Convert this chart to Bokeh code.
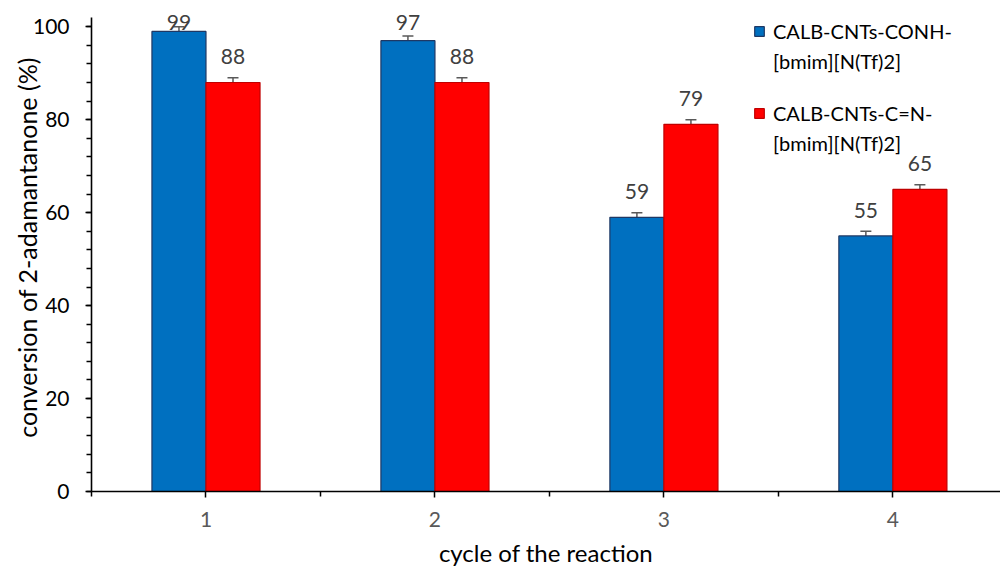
from bokeh.plotting import figure
from bokeh.models import (ColumnDataSource, Whisker, TeeHead, FixedTicker, Range1d,
                          Legend, LegendItem, LabelSet)
from bokeh.core.properties import value
from bokeh.embed import file_html
from bokeh.resources import INLINE

cycles = ["1", "2", "3", "4"]
series_lines = [["CALB-CNTs-CONH-", "[bmim][N(Tf)2]"], ["CALB-CNTs-C=N-", "[bmim][N(Tf)2]"]]
conh = [99, 97, 59, 55]
cn = [88, 88, 79, 65]
conh_err = [1, 1, 1, 1]
cn_err = [1, 1, 1, 1]
colors = ["#0070C0", "#FF0000"]
outlines = ["#1F3864", "#C00000"]

FONT = "Lato"
x_num = [float(c) for c in cycles]
bw = 0.236

p = figure(width=1000, height=572, output_backend="svg", toolbar_location=None,
           x_range=Range1d(0.5, 4.47), y_range=Range1d(0, 105),
           min_border_left=91, min_border_right=0, min_border_top=3, min_border_bottom=81)
p.outline_line_color = None
p.grid.visible = False
p.background_fill_color = "white"

renderers = []
for vals, errs, off, col, oc in [(conh, conh_err, -bw / 2, colors[0], outlines[0]),
                                 (cn, cn_err, bw / 2, colors[1], outlines[1])]:
    xs = [x + off for x in x_num]
    src = ColumnDataSource(dict(x=xs, top=vals,
                                lo=[v - e for v, e in zip(vals, errs)],
                                hi=[v + e for v, e in zip(vals, errs)],
                                ly=[min(v + e + 2.9, 99.4) for v, e in zip(vals, errs)],
                                lab=[str(v) for v in vals]))
    r = p.vbar(x="x", top="top", width=bw, bottom=0, source=src, fill_color=col,
               line_color=oc, line_width=1.2)
    renderers.append(r)
    w = Whisker(base="x", upper="hi", lower="lo", source=src, line_color="#595959",
                line_width=1.5,
                upper_head=TeeHead(size=11, line_color="#595959", line_width=1.5),
                lower_head=TeeHead(size=11, line_color="#595959", line_width=1.5))
    p.add_layout(w)
    p.add_layout(LabelSet(x="x", y="ly", text="lab", source=src, text_align="center",
                          text_baseline="bottom", text_font=value(FONT),
                          text_font_size="21px", text_color="#404040"))

# invisible renderer used for second legend lines
dummy = p.vbar(x=[], top=[], width=bw, fill_alpha=0, line_alpha=0)

# axes
p.xaxis.ticker = FixedTicker(ticks=x_num, minor_ticks=[0.5, 1.5, 2.5, 3.5, 4.5])
p.xaxis.major_label_overrides = {x: c for x, c in zip(x_num, cycles)}
p.xaxis.axis_label = "cycle of the reaction"
p.yaxis.axis_label = "conversion of 2-adamantanone (%)"
p.yaxis.ticker = FixedTicker(ticks=[0, 20, 40, 60, 80, 100],
                             minor_ticks=list(range(0, 101, 4)))
p.yaxis.bounds = (0, 102)
for ax in (p.xaxis[0], p.yaxis[0]):
    ax.axis_line_color = "black"
    ax.axis_line_width = 1.6
    ax.major_tick_line_color = "black"
    ax.minor_tick_line_color = "black"
    ax.major_tick_line_width = 1.5
    ax.minor_tick_line_width = 1.5
    ax.major_tick_in = 0
    ax.minor_tick_in = 0
    ax.major_tick_out = 6
    ax.minor_tick_out = 5
    ax.major_label_text_font = FONT
    ax.major_label_text_font_size = "21px"
    ax.axis_label_text_font = FONT
    ax.axis_label_text_font_style = "normal"
    ax.axis_label_text_color = "black"
p.xaxis.axis_label_text_font_size = "24px"
p.yaxis.axis_label_text_font_size = "25px"
p.xaxis.major_label_text_color = "#595959"
p.yaxis.major_label_text_color = "black"
p.xaxis.major_label_standoff = 14
p.xaxis.axis_label_standoff = 8
p.yaxis.major_label_standoff = 16
p.yaxis.axis_label_standoff = -12

for i, loc in enumerate([(662, 415), (662, 333)]):
    lg = Legend(items=[LegendItem(label=series_lines[i][0], renderers=[renderers[i]]),
                       LegendItem(label=series_lines[i][1], renderers=[dummy])],
                location=loc, border_line_color=None, background_fill_alpha=0,
                label_text_font=FONT, label_text_font_size="20px", label_text_color="black",
                label_height=30, glyph_width=12, glyph_height=12, spacing=0,
                padding=0, margin=0, label_standoff=8)
    p.add_layout(lg)

open("out.html", "w").write(file_html(p, INLINE))
